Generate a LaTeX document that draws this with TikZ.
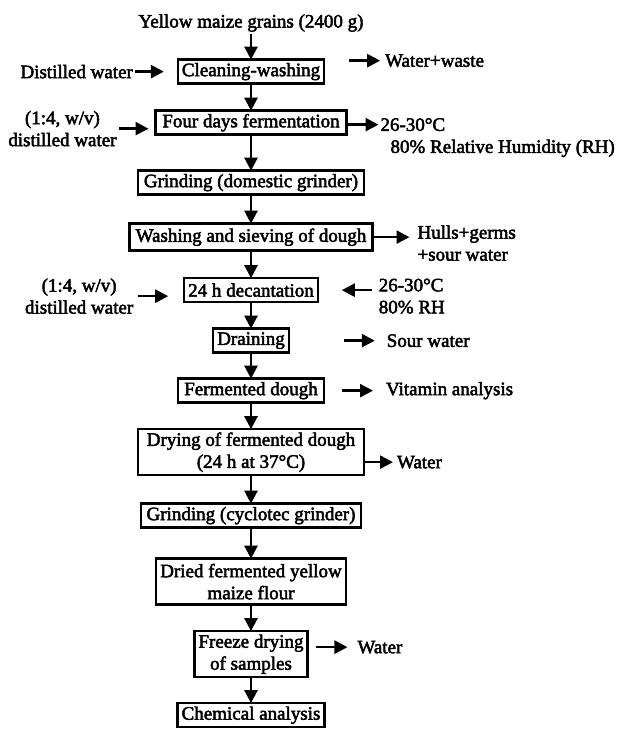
\documentclass[tikz,border=0pt]{standalone}
\usepackage{fontspec}
\setmainfont{Liberation Serif}[FakeBold=2.5]
\usetikzlibrary{arrows.meta,positioning}

\begin{document}
\begin{tikzpicture}[x=1pt, y=1pt, font=\fontsize{19}{22}\selectfont, node distance=26pt,
  stepbox/.style={draw, line width=2.4pt, outer sep=0pt, inner xsep=4pt, inner ysep=3pt, minimum height=24pt, align=center},
  txt/.style={inner sep=2pt, outer sep=0pt},
  arr/.style={line width=2.5pt, -{Triangle[length=13pt,width=13pt]}}]
  \useasboundingbox (0,0) rectangle (618,-731);
  \node[txt] (grains) at (251,-23) {Yellow maize grains (2400 g)};
  \node[stepbox, below=26pt of grains] (clean) {Cleaning-washing};
  \node[stepbox, below=27pt of clean, minimum width=191pt] (ferm4) {Four days fermentation};
  \node[stepbox, below=36pt of ferm4, minimum width=226pt] (grind1) {Grinding (domestic grinder)};
  \node[stepbox, below=29pt of grind1, minimum width=243pt, minimum height=27pt] (wash) {Washing and sieving of dough};
  \node[stepbox, below=27.5pt of wash] (decant) {24 h decantation};
  \node[stepbox, below=26.5pt of decant] (drain) {Draining};
  \node[stepbox, below=26pt of drain, minimum width=146pt] (fdough) {Fermented dough};
  \node[stepbox, below=26.5pt of fdough, minimum width=226pt, minimum height=46pt] (dry) {Drying of fermented dough\\(24 h at 37°C)};
  \node[stepbox, below=28.5pt of dry, minimum width=220pt] (grind2) {Grinding (cyclotec grinder)};
  \node[stepbox, below=31pt of grind2, minimum height=46pt] (dried) {Dried fermented yellow\\maize flour};
  \node[stepbox, below=26.5pt of dried, minimum height=46pt] (freeze) {Freeze drying\\of samples};
  \node[stepbox, below=26pt of freeze] (chem) {Chemical analysis};
  \draw[arr] (grains) -- (clean);
  \draw[arr] (clean) -- (ferm4);
  \draw[arr] (ferm4) -- (grind1);
  \draw[arr] (grind1) -- (wash);
  \draw[arr] (wash) -- (decant);
  \draw[arr] (decant) -- (drain);
  \draw[arr] (drain) -- (fdough);
  \draw[arr] (fdough) -- (dry);
  \draw[arr] (dry) -- (grind2);
  \draw[arr] (grind2) -- (dried);
  \draw[arr] (dried) -- (freeze);
  \draw[arr] (freeze) -- (chem);

  \node[txt, left=43pt of clean] (dwater) {Distilled water};
  \draw[arr, shorten >=14pt] (dwater) -- (clean);
  \node[txt, right=59pt of clean, yshift=11pt] (waste) {Water+waste};
  \draw[arr, shorten <=25pt, shorten >=3pt] (clean.east |- waste.west) -- (waste.west);

  \node[txt, align=center, left=37pt of ferm4, yshift=-6pt] (ratio1) {(1:4, w/v)\\distilled water};
  \draw[arr, shorten >=7pt] (ratio1.east) -- (ratio1.east -| ferm4.west);
  \node[txt, right=32pt of ferm4, yshift=-2pt] (temp1) {26-30°C};
  \node[txt, anchor=base west] (rh1) at ([xshift=10pt, yshift=-22pt]temp1.base west) {80\% Relative Humidity (RH)};
  \draw[arr] (ferm4.east |- temp1.west) -- (temp1.west);

  \node[txt, align=left, right=43pt of wash, yshift=-6pt] (hulls) {Hulls+germs\\+sour water};
  \draw[arr, shorten >=6pt] (wash.east) -- (wash.east -| hulls.west);

  \node[txt, align=center, left=49pt of decant, yshift=-6pt] (ratio2) {(1:4, w/v)\\distilled water};
  \draw[arr, shorten <=3pt, shorten >=16pt] (ratio2.east) -- (ratio2.east -| decant.west);
  \node[txt, align=left, right=59pt of decant, yshift=-6pt] (temp2) {26-30°C\\80\% RH};
  \draw[arr, shorten <=5pt, shorten >=24pt] (temp2.west |- decant.east) -- (decant.east);

  \node[txt, right=96pt of drain] (sourw) {Sour water};
  \draw[arr, shorten <=55pt, shorten >=10pt] (drain) -- (sourw);
  \node[txt, right=60pt of fdough] (vitam) {Vitamin analysis};
  \draw[arr, shorten <=18pt, shorten >=11pt] (fdough) -- (vitam);
  \node[txt, right=31pt of dry, yshift=-10pt] (water1) {Water};
  \draw[arr, shorten >=2pt] (dry.east |- water1.west) -- (water1.west);
  \node[txt, right=48pt of freeze, yshift=7pt] (water2) {Water};
  \draw[arr, shorten <=9pt, shorten >=8pt] (freeze.east |- water2.west) -- (water2.west);
\end{tikzpicture}
\end{document}
